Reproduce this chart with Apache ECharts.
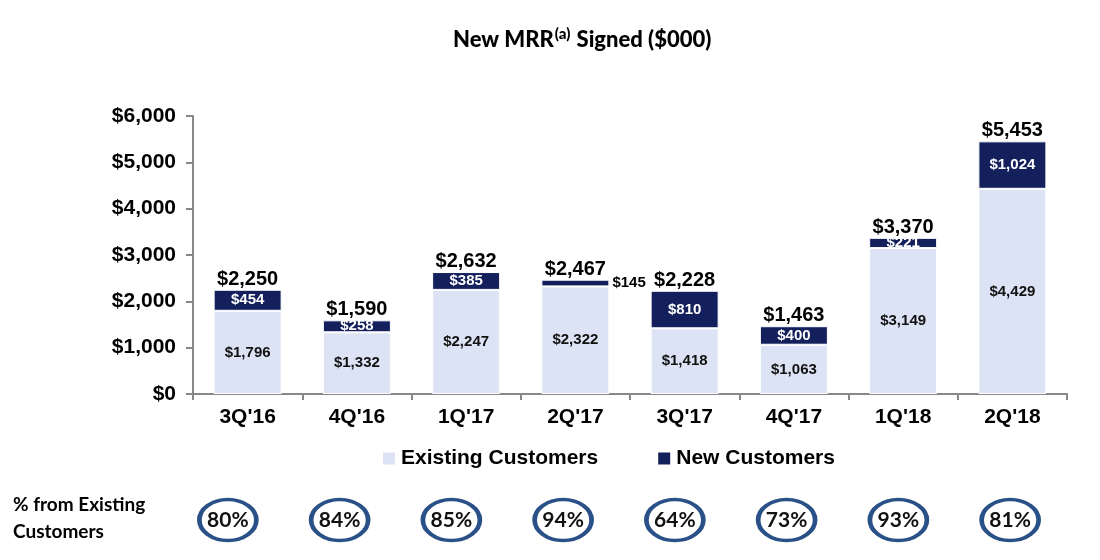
<!DOCTYPE html>
<html><head><meta charset="utf-8">
<script src="https://cdn.jsdelivr.net/npm/echarts@6/dist/echarts.min.js"></script>
<style>html,body{margin:0;padding:0;background:#fff}#c{width:1100px;height:560px}</style>
</head><body><div id="c"></div>
<script>
const categories = ["3Q'16","4Q'16","1Q'17","2Q'17","3Q'17","4Q'17","1Q'18","2Q'18"];
const existing = [1796,1332,2247,2322,1418,1063,3149,4429];
const newCust = [454,258,385,145,810,400,221,1024];
const totals = [2250,1590,2632,2467,2228,1463,3370,5453];
const pctExisting = [80,84,85,94,64,73,93,81];
const yTicks = [0,1000,2000,3000,4000,5000,6000];

const fmt = v => '$' + v.toLocaleString('en-US');
const ARIAL = '"Liberation Sans", Arial, sans-serif';
const CAL = 'Lato, "Open Sans", sans-serif';
const LIGHT = '#dce3f4', NAVY = '#13205c';

const chart = echarts.init(document.getElementById('c'));
chart.setOption({
  animation: false,
  backgroundColor: '#fff',
  title: {
    text: '{a|New MRR}{s|(a)}{a| Signed ($000)}',
    left: 448, top: 22,
    textStyle: { rich: {
      a: { fontFamily: CAL, fontWeight: 900, fontSize: 22, color: '#000' },
      s: { fontFamily: CAL, fontWeight: 900, fontSize: 15, color: '#000', padding: [0,1,10,1] }
    } }
  },
  legend: {
    data: ['Existing Customers','New Customers'],
    left: 376, top: 443, itemWidth: 14, itemHeight: 14, itemGap: 58, icon: 'rect',
    textStyle: { fontFamily: ARIAL, fontWeight: 'bold', fontSize: 21, color: '#000' }
  },
  graphic: [{
    type: 'text', left: 13, top: 491,
    style: { text: '% from Existing\nCustomers', font: 'bold 19px ' + CAL, fill: '#000', lineHeight: 27 }
  }],
  grid: [
    { left: 193, right: 33, top: 116, bottom: 166 },
    { left: 172, right: 34, top: 497, height: 46 }
  ],
  xAxis: [
    { type: 'category', data: categories, gridIndex: 0,
      axisLine: { lineStyle: { color: '#888', width: 2 } },
      axisTick: { show: true, length: 6, lineStyle: { color: '#888', width: 2 } },
      axisLabel: { margin: 13, fontFamily: ARIAL, fontWeight: 'bold', fontSize: 21, color: '#000' } },
    { type: 'category', data: categories, gridIndex: 1, show: false }
  ],
  yAxis: [
    { type: 'value', min: 0, max: 6000, interval: 1000, gridIndex: 0,
      splitLine: { show: false },
      axisLine: { show: true, lineStyle: { color: '#888', width: 2 } },
      axisTick: { show: true, length: 7, lineStyle: { color: '#888', width: 2 } },
      axisLabel: { margin: 17, fontFamily: ARIAL, fontWeight: 'bold', fontSize: 21, color: '#000',
        formatter: v => yTicks.includes(v) ? fmt(v) : '' } },
    { type: 'value', min: 0, max: 1, gridIndex: 1, show: false }
  ],
  series: [
    { name: 'Existing Customers', type: 'bar', stack: 'a', barWidth: 68, data: existing,
      itemStyle: { color: LIGHT, borderColor: '#fff', borderWidth: 1 },
      label: { show: true, position: 'inside', formatter: p => fmt(p.value),
        fontFamily: ARIAL, fontWeight: 'bold', fontSize: 15, color: '#111' } },
    { name: 'New Customers', type: 'bar', stack: 'a', barWidth: 68,
      data: newCust.map((v, i) => i === 3 ? { value: v, label: { position: 'right', distance: 3, color: '#000' } } : v),
      itemStyle: { color: NAVY, borderColor: '#fff', borderWidth: 1 },
      label: { show: true, position: 'inside', formatter: p => fmt(p.value),
        fontFamily: ARIAL, fontWeight: 'bold', fontSize: 15, color: '#fff' } },
    { type: 'scatter', data: totals, symbolSize: 1, itemStyle: { color: 'rgba(0,0,0,0)', opacity: 1 }, z: 5,
      label: { show: true, position: 'top', distance: 0, formatter: p => fmt(p.value),
        fontFamily: ARIAL, fontWeight: 'bold', fontSize: 20, color: '#000' } },
    { type: 'scatter', xAxisIndex: 1, yAxisIndex: 1,
      data: pctExisting.map(v => 0.5),
      symbol: 'circle', symbolSize: [57, 41],
      itemStyle: { color: '#fff', borderColor: '#2a5187', borderWidth: 4, opacity: 1 },
      label: { show: true, position: 'inside', formatter: p => pctExisting[p.dataIndex] + '%',
        fontFamily: CAL, fontWeight: 'bold', fontSize: 21, color: '#111' } }
  ]
});
</script></body></html>
